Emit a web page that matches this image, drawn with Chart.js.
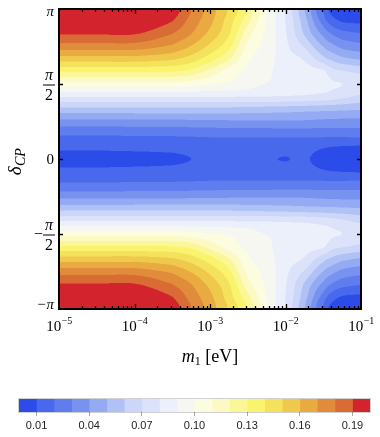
<!DOCTYPE html>
<html>
<head>
<meta charset="utf-8">
<script src="https://cdn.jsdelivr.net/npm/chart.js@4.4.1/dist/chart.umd.min.js"></script>
<style>
  html, body { margin: 0; padding: 0; background: #fff; }
  #wrap { position: relative; width: 380px; height: 437px; }
  #main { position: absolute; left: 0; top: 0; }
  #bar { position: absolute; left: 0; top: 386px; }
</style>
</head>
<body>
<div id="wrap">
  <canvas id="main" width="380" height="437"></canvas>
  <canvas id="bar" width="380" height="51"></canvas>
</div>
<script>
// grid columns: log10(m1 / eV)
const LOG_M1 = [-5, -4.5, -4, -3.5, -3.25, -3, -2.75, -2.5, -2.25, -2, -1.75, -1.5, -1.375, -1.25, -1];
// grid rows: deltaCP in units of pi (the plot is mirror symmetric in deltaCP)
const DELTA_ROWS = [0, 1/12, 2/12, 3/12, 4/12, 5/12, 6/12, 7/12, 8/12, 9/12, 10/12, 11/12, 1];
// values, one row per DELTA_ROWS entry, one column per LOG_M1 entry
const VALUES = [
  [0.0085, 0.0085, 0.0088, 0.0092, 0.0100, 0.0107, 0.0110, 0.0108, 0.0103, 0.0099, 0.0104, 0.0085, 0.0068, 0.0058, 0.0050],
  [0.0118, 0.0118, 0.0120, 0.0124, 0.0130, 0.0137, 0.0140, 0.0138, 0.0134, 0.0130, 0.0132, 0.0110, 0.0102, 0.0097, 0.0093],
  [0.0216, 0.0216, 0.0218, 0.0221, 0.0225, 0.0230, 0.0232, 0.0232, 0.0232, 0.0234, 0.0236, 0.0236, 0.0237, 0.0238, 0.0240],
  [0.0370, 0.0370, 0.0371, 0.0373, 0.0376, 0.0380, 0.0383, 0.0385, 0.0388, 0.0390, 0.0385, 0.0375, 0.0370, 0.0368, 0.0365],
  [0.0573, 0.0573, 0.0573, 0.0573, 0.0573, 0.0572, 0.0570, 0.0565, 0.0558, 0.0550, 0.0540, 0.0532, 0.0527, 0.0522, 0.0510],
  [0.0808, 0.0808, 0.0808, 0.0808, 0.0808, 0.0807, 0.0805, 0.0802, 0.0798, 0.0793, 0.0785, 0.0765, 0.0745, 0.0725, 0.0680],
  [0.1060, 0.1060, 0.1060, 0.1058, 0.1036, 0.1008, 0.0985, 0.0945, 0.0895, 0.0870, 0.0850, 0.0840, 0.0810, 0.0800, 0.0775],
  [0.1312, 0.1312, 0.1312, 0.1302, 0.1266, 0.1165, 0.1055, 0.0975, 0.0920, 0.0855, 0.0835, 0.0815, 0.0730, 0.0710, 0.0675],
  [0.1548, 0.1548, 0.1548, 0.1514, 0.1450, 0.1343, 0.1210, 0.1020, 0.0945, 0.0840, 0.0790, 0.0636, 0.0575, 0.0526, 0.0488],
  [0.1750, 0.1750, 0.1750, 0.1680, 0.1592, 0.1474, 0.1325, 0.1070, 0.0965, 0.0825, 0.0690, 0.0500, 0.0427, 0.0372, 0.0339],
  [0.1904, 0.1904, 0.1904, 0.1800, 0.1700, 0.1567, 0.1410, 0.1140, 0.0975, 0.0810, 0.0590, 0.0380, 0.0290, 0.0240, 0.0210],
  [0.2002, 0.2002, 0.2002, 0.1900, 0.1759, 0.1625, 0.1448, 0.1225, 0.0990, 0.0800, 0.0545, 0.0263, 0.0147, 0.0095, 0.0085],
  [0.2035, 0.2035, 0.2035, 0.1960, 0.1803, 0.1652, 0.1488, 0.1295, 0.1000, 0.0790, 0.0505, 0.0190, 0.0060, 0.0040, 0.0050]
];
const LEVEL_STEP = 0.01;
const LEVEL_COLORS = [
  '#2c4cea', '#4869ec', '#5f7dee', '#7892f0', '#94aaf3', '#b0c1f6', '#cbd6f8', '#dbe2f9', '#ecf0fb', '#f7f7f1',
  '#fcfce0', '#fcf9c4', '#fbf696', '#faf36e', '#f4e15c', '#eec94b', '#e8aa41', '#e18c3a', '#d96c34', '#d3232d'
];
const BAR_TICKS = [0.01, 0.04, 0.07, 0.10, 0.13, 0.16, 0.19];
const X_TICKS = [1e-5, 1e-4, 1e-3, 1e-2, 1e-1];
const Y_TICKS = [-Math.PI, -Math.PI / 2, 0, Math.PI / 2, Math.PI];

const SERIF = '"Liberation Serif", "Times New Roman", serif';
const SANS = '"Liberation Sans", Arial, sans-serif';

const RGB = LEVEL_COLORS.map(h => [1, 3, 5].map(i => parseInt(h.slice(i, i + 2), 16)));

function cr(p0, p1, p2, p3, t) {
  return 0.5 * (2 * p1 + (-p0 + p2) * t + (2 * p0 - 5 * p1 + 4 * p2 - p3) * t * t + (-p0 + 3 * p1 - 3 * p2 + p3) * t * t * t);
}
function colIndex(lg) {
  if (lg <= LOG_M1[0]) return 0;
  for (let i = 0; i < LOG_M1.length - 1; i++) {
    if (lg <= LOG_M1[i + 1]) return i + (lg - LOG_M1[i]) / (LOG_M1[i + 1] - LOG_M1[i]);
  }
  return LOG_M1.length - 1;
}
function rowIndex(d) {
  const a = Math.abs(d) / Math.PI;
  const n = DELTA_ROWS.length - 1;
  return Math.min(n, a / DELTA_ROWS[1]);
}
function node(r, c) {
  const n = VALUES.length - 1;
  if (r < 0) r = -r;
  if (r > n) r = 2 * n - r;
  c = Math.max(0, Math.min(LOG_M1.length - 1, c));
  return VALUES[r][c];
}
function field(ci, ri) {
  const c0 = Math.min(Math.floor(ci), LOG_M1.length - 2), r0 = Math.min(Math.floor(ri), VALUES.length - 2);
  const tc = ci - c0, tr = ri - r0;
  const rows = [];
  for (let dr = -1; dr <= 2; dr++) {
    const r = r0 + dr;
    rows.push(cr(node(r, c0 - 1), node(r, c0), node(r, c0 + 1), node(r, c0 + 2), tc));
  }
  return cr(rows[0], rows[1], rows[2], rows[3], tr);
}

const contourPlugin = {
  id: 'contour',
  beforeDatasetsDraw(chart) {
    const ctx = chart.ctx, xs = chart.scales.x, ys = chart.scales.y;
    const { left, top, right, bottom } = chart.chartArea;
    const w = Math.round(right - left), h = Math.round(bottom - top);
    const img = ctx.createImageData(w, h);
    const SUB = [0.25, 0.75];
    const ci = [], ri = [];
    for (let i = 0; i < w; i++) for (const s of SUB) ci.push(colIndex(Math.log10(xs.getValueForPixel(left + i + s))));
    for (let j = 0; j < h; j++) for (const s of SUB) ri.push(rowIndex(ys.getValueForPixel(top + j + s)));
    for (let j = 0; j < h; j++) {
      for (let i = 0; i < w; i++) {
        let r = 0, g = 0, b = 0;
        for (let a = 0; a < 2; a++) for (let c = 0; c < 2; c++) {
          const v = field(ci[i * 2 + a], ri[j * 2 + c]);
          let lv = Math.floor(v / LEVEL_STEP);
          lv = Math.max(0, Math.min(LEVEL_COLORS.length - 1, lv));
          r += RGB[lv][0]; g += RGB[lv][1]; b += RGB[lv][2];
        }
        const k = (j * w + i) * 4;
        img.data[k] = r / 4; img.data[k + 1] = g / 4; img.data[k + 2] = b / 4; img.data[k + 3] = 255;
      }
    }
    ctx.putImageData(img, left, top);
  },
  afterDraw(chart) {
    const ctx = chart.ctx, xs = chart.scales.x, ys = chart.scales.y;
    const { left, top, right, bottom } = chart.chartArea;
    ctx.save();
    ctx.strokeStyle = '#000';
    // minor / major ticks on top and bottom
    ctx.lineWidth = 1.3;
    for (let e = -5; e < -1; e++) {
      for (let k = 1; k <= 9; k++) {
        const v = k * Math.pow(10, e);
        if (v <= 1e-5) continue;
        const px = Math.round(xs.getPixelForValue(v)) + 0.5;
        const len = k === 1 ? 5 : 3;
        ctx.beginPath();
        ctx.moveTo(px, bottom); ctx.lineTo(px, bottom - len);
        ctx.moveTo(px, top); ctx.lineTo(px, top + len);
        ctx.stroke();
      }
    }
    for (const t of Y_TICKS.slice(1, -1)) {
      const py = Math.round(ys.getPixelForValue(t)) + 0.5;
      ctx.beginPath();
      ctx.moveTo(left, py); ctx.lineTo(left + 4, py);
      ctx.moveTo(right, py); ctx.lineTo(right - 4, py);
      ctx.stroke();
    }
    // frame
    ctx.lineWidth = 2;
    ctx.strokeRect(left, top, right - left, bottom - top);

    ctx.fillStyle = '#000';
    // x tick labels 10^e
    for (const t of X_TICKS) {
      const px = xs.getPixelForValue(t);
      const e = Math.round(Math.log10(t));
      const sup = '\u2212' + Math.abs(e);
      ctx.font = `15px ${SERIF}`;
      const w1 = ctx.measureText('10').width;
      ctx.font = `10px ${SERIF}`;
      const w2 = ctx.measureText(sup).width;
      const x0 = px - (w1 + w2) / 2;
      ctx.textAlign = 'left'; ctx.textBaseline = 'alphabetic';
      ctx.font = `15px ${SERIF}`;
      ctx.fillText('10', x0, bottom + 22);
      ctx.font = `10px ${SERIF}`;
      ctx.fillText(sup, x0 + w1 + 0.5, bottom + 15);
    }
    // y tick labels
    const yAt = v => ys.getPixelForValue(v);
    ctx.textAlign = 'right'; ctx.textBaseline = 'middle';
    ctx.font = `italic 15px ${SERIF}`;
    ctx.fillText('\u03c0', 54, yAt(Math.PI) + 3);
    ctx.fillText('\u2212\u03c0', 54, yAt(-Math.PI) - 4);
    ctx.font = `15px ${SERIF}`;
    ctx.fillText('0', 54, yAt(0) + 1);
    const frac = (y, neg) => {
      const cx = 49;
      ctx.textAlign = 'center'; ctx.textBaseline = 'alphabetic';
      ctx.font = `italic 16px ${SERIF}`;
      ctx.fillText('\u03c0', cx, y - 4);
      ctx.fillRect(cx - 6, y + 0.5, 12, 1);
      ctx.font = `16px ${SERIF}`;
      ctx.fillText('2', cx, y + 16);
      if (neg) {
        ctx.textAlign = 'right'; ctx.textBaseline = 'middle';
        ctx.fillText('\u2212', cx - 6, y + 0.5);
      }
    };
    frac(yAt(Math.PI / 2), false);
    frac(yAt(-Math.PI / 2), true);

    // x axis title: m1 [eV]
    ctx.textBaseline = 'alphabetic'; ctx.textAlign = 'left';
    ctx.font = `italic 18px ${SERIF}`;
    const wm = ctx.measureText('m').width;
    ctx.font = `12px ${SERIF}`;
    const w1s = ctx.measureText('1').width;
    ctx.font = `18px ${SERIF}`;
    const we = ctx.measureText(' [eV]').width;
    let x = (left + right) / 2 - (wm + w1s + we) / 2;
    const yb = 362;
    ctx.font = `italic 18px ${SERIF}`; ctx.fillText('m', x, yb); x += wm;
    ctx.font = `12px ${SERIF}`; ctx.fillText('1', x, yb + 3); x += w1s;
    ctx.font = `18px ${SERIF}`; ctx.fillText(' [eV]', x, yb);

    // y axis title: deltaCP
    ctx.save();
    ctx.translate(21, (top + bottom) / 2 + 3);
    ctx.rotate(-Math.PI / 2);
    ctx.font = `italic 19px ${SERIF}`;
    const wd = ctx.measureText('\u03b4').width;
    ctx.font = `italic 14px ${SERIF}`;
    const wc = ctx.measureText('CP').width;
    let xx = -(wd + wc) / 2;
    ctx.font = `italic 19px ${SERIF}`; ctx.fillText('\u03b4', xx, 0); xx += wd + 0.5;
    ctx.font = `italic 14px ${SERIF}`; ctx.fillText('CP', xx, 4);
    ctx.restore();
    ctx.restore();
  }
};

const gridPoints = [];
VALUES.forEach((row, r) => row.forEach((v, c) => {
  gridPoints.push({ x: Math.pow(10, LOG_M1[c]), y: DELTA_ROWS[r] * Math.PI });
  gridPoints.push({ x: Math.pow(10, LOG_M1[c]), y: -DELTA_ROWS[r] * Math.PI });
}));

new Chart(document.getElementById('main'), {
  type: 'scatter',
  data: { datasets: [{ data: gridPoints, pointRadius: 0, showLine: false }] },
  options: {
    responsive: false,
    animation: false,
    layout: { padding: { left: 59, right: 19, top: 9, bottom: 128 } },
    plugins: { legend: { display: false }, tooltip: { enabled: false } },
    scales: {
      x: { type: 'logarithmic', min: 1e-5, max: 1e-1, display: false },
      y: { type: 'linear', min: -Math.PI, max: Math.PI, display: false }
    }
  },
  plugins: [contourPlugin]
});

const barFrame = {
  id: 'barFrame',
  afterDatasetsDraw(chart) {
    const { left, top, right, bottom } = chart.chartArea;
    const ctx = chart.ctx;
    ctx.save();
    ctx.strokeStyle = 'rgba(0,0,0,0.18)';
    ctx.lineWidth = 1;
    ctx.strokeRect(left - 0.5, top - 0.5, right - left + 1, bottom - top + 1);
    ctx.restore();
  }
};

new Chart(document.getElementById('bar'), {
  type: 'bar',
  data: {
    labels: [''],
    datasets: LEVEL_COLORS.map((c, k) => ({
      data: [[k * LEVEL_STEP, (k + 1) * LEVEL_STEP]],
      backgroundColor: c,
      borderWidth: 0,
      barPercentage: 1,
      categoryPercentage: 1,
      grouped: false
    }))
  },
  options: {
    indexAxis: 'y',
    responsive: false,
    animation: false,
    layout: { padding: { left: 19, right: 10, top: 13, bottom: 0 } },
    plugins: { legend: { display: false }, tooltip: { enabled: false } },
    scales: {
      y: { display: false },
      x: {
        type: 'linear', min: 0, max: 0.2,
        afterBuildTicks: a => { a.ticks = BAR_TICKS.map(v => ({ value: v })); },
        afterFit: a => { a.height = 25; },
        ticks: { callback: v => v.toFixed(2), font: { family: SANS, size: 11 }, color: '#222', padding: 3, maxRotation: 0, autoSkip: false },
        grid: { drawOnChartArea: false, tickLength: 4, color: '#aaa' },
        border: { display: false }
      }
    }
  },
  plugins: [barFrame]
});
</script>
</body>
</html>
